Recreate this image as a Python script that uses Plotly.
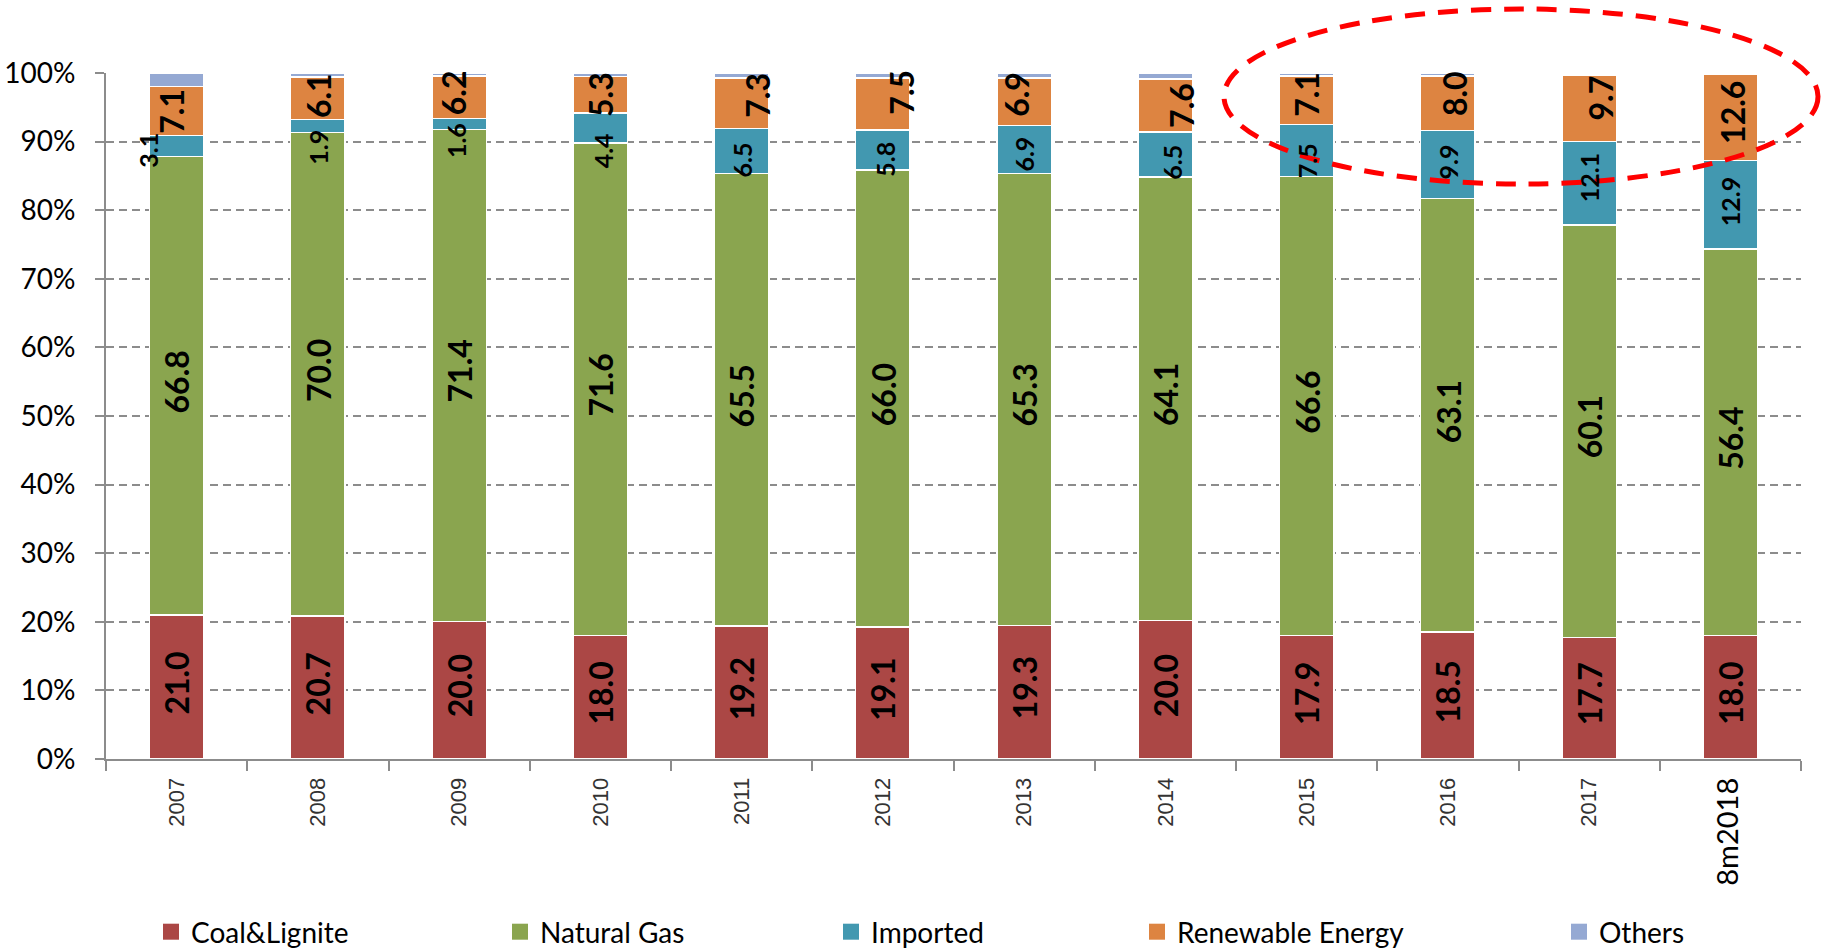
import plotly.graph_objects as go

# ---------------- data ----------------
categories = ["2007", "2008", "2009", "2010", "2011", "2012",
              "2013", "2014", "2015", "2016", "2017", "8m2018"]
coal = [21.0, 20.7, 20.0, 18.0, 19.2, 19.1, 19.3, 20.0, 17.9, 18.5, 17.7, 18.0]
natural_gas = [66.8, 70.0, 71.4, 71.6, 65.5, 66.0, 65.3, 64.1, 66.6, 63.1, 60.1, 56.4]
imported = [3.1, 1.9, 1.6, 4.4, 6.5, 5.8, 6.9, 6.5, 7.5, 9.9, 12.1, 12.9]
renewable = [7.1, 6.1, 6.2, 5.3, 7.3, 7.5, 6.9, 7.6, 7.1, 8.0, 9.7, 12.6]
others = [2.0, 0.6, 0.4, 0.5, 0.7, 0.7, 0.7, 0.9, 0.4, 0.4, 0.3, 0.2]
y_tick_values = [0, 10, 20, 30, 40, 50, 60, 70, 80, 90, 100]
y_tick_labels = ["0%", "10%", "20%", "30%", "40%", "50%", "60%", "70%", "80%", "90%", "100%"]

series_names = ["Coal&Lignite", "Natural Gas", "Imported", "Renewable Energy", "Others"]
series_values = [coal, natural_gas, imported, renewable, others]

# ---------------- styles ----------------
colors = ["#AB4745", "#8AA54F", "#4298B0", "#DD8441", "#95A9D3"]
label_sizes = [32, 32, 25, 32, None]
# pixel nudges of the value labels (dx right, dy up), mimicking the original placement
label_dx = {2: [-29, 0, -3, 3, 0, 2, 0, 7, 0, 0, 0, 0],
            3: [-6, 0, -6, 0, 15, 19, -7, 16, 0, 6, 11, 2]}
label_dy = {0: [4] * 12, 1: [4] * 12,
            2: [-4, -21, -17, -23, -9, -9, -5, -8, -10, 3, 5, 3],
            3: [0, 3, 4, 0, 8, 12, 7, 0, 6, 10, 10, 5]}
legend_left_px = [151, 500, 831, 1137, 1559]

W, H = 1826, 952
ML, MR, MT, MB = 106, 25, 73, 193
plot_w = W - ML - MR
plot_h = H - MT - MB

fig = go.Figure()
for i, (name, vals) in enumerate(zip(series_names, series_values)):
    fig.add_trace(go.Bar(
        x=categories, y=vals, name=name, showlegend=False,
        marker=dict(color=colors[i], line=dict(color="white", width=1.5)),
        hoverinfo="x+y+name", xaxis="x", yaxis="y",
    ))

# legend entries (one legend per entry so spacing follows the original);
# they live on a hidden helper axis pair so they do not touch the bar axes
for i, name in enumerate(series_names):
    key = "legend" if i == 0 else f"legend{i + 1}"
    fig.add_trace(go.Scatter(
        x=[0], y=[0], mode="markers", name=name, legend=key,
        xaxis="x2", yaxis="y2",
        marker=dict(symbol="square", size=16, color=colors[i]),
        showlegend=True, hoverinfo="skip",
    ))
    fig.layout[key] = dict(
        x=(legend_left_px[i] - ML) / plot_w, y=(MT + plot_h - 932) / plot_h,
        xanchor="left", yanchor="middle", orientation="h",
        font=dict(family="Lato", size=28, color="black"),
        bgcolor="rgba(0,0,0,0)", borderwidth=0,
    )

# value labels, centred on each segment of the 100 % stacked bars
annotations = []
for j, cat in enumerate(categories):
    total = sum(vals[j] for vals in series_values)
    base = 0.0
    for i, vals in enumerate(series_values):
        v = vals[j]
        mid = (base + v / 2) * 100.0 / total
        base += v
        if label_sizes[i] is None:
            continue
        annotations.append(dict(
            x=j, y=mid, xref="x", yref="y", text=f"{v:.1f}",
            showarrow=False, textangle=-90,
            xshift=label_dx.get(i, [0] * 12)[j], yshift=label_dy.get(i, [0] * 12)[j],
            font=dict(family="Lato", size=label_sizes[i], color="black", weight="bold"),
        ))

tick_text = [c if c != "8m2018" else
             '<span style="font-family:Lato;font-size:29px;color:black">8m2018</span>'
             for c in categories]

fig.update_layout(
    width=W, height=H, barmode="stack", barnorm="percent", bargap=0.613,
    margin=dict(l=ML, r=MR, t=MT, b=MB, pad=0, autoexpand=False),
    plot_bgcolor="white", paper_bgcolor="white",
    annotations=annotations,
    shapes=[dict(type="circle", xref="paper", yref="paper",
                 x0=(1224 - ML) / plot_w, x1=(1818 - ML) / plot_w,
                 y0=(MT + plot_h - 184) / plot_h, y1=(MT + plot_h - 9) / plot_h,
                 line=dict(color="#FF0000", width=5, dash="20px,13px"),
                 fillcolor="rgba(0,0,0,0)", layer="above")],
    xaxis=dict(type="category", categoryorder="array", categoryarray=categories,
               range=[-0.5, len(categories) - 0.5], automargin=False,
               tickmode="array", tickvals=categories, ticktext=tick_text,
               tickangle=-90, tickson="boundaries", ticks="outside", ticklen=10,
               tickwidth=1.5, tickcolor="#8c8c8c", showline=True, linecolor="#8c8c8c",
               linewidth=2, showgrid=False, ticklabelstandoff=8,
               tickfont=dict(family="Liberation Sans", size=22, color="#333333")),
    yaxis=dict(range=[0, 100], tickmode="array", tickvals=y_tick_values,
               ticktext=y_tick_labels, ticks="outside", ticklen=9, tickwidth=1.5,
               tickcolor="#8c8c8c", showline=True, linecolor="#8c8c8c", linewidth=2,
               showgrid=True, gridcolor="#8c8c8c", gridwidth=1.5, griddash="8px,5px",
               zeroline=False, ticklabelstandoff=14, automargin=False,
               tickfont=dict(family="Lato", size=28, color="black")),
    xaxis2=dict(overlaying="x", visible=False, range=[10, 11], fixedrange=True),
    yaxis2=dict(overlaying="y", visible=False, range=[10, 11], fixedrange=True),
)

fig.write_html("out.html")
